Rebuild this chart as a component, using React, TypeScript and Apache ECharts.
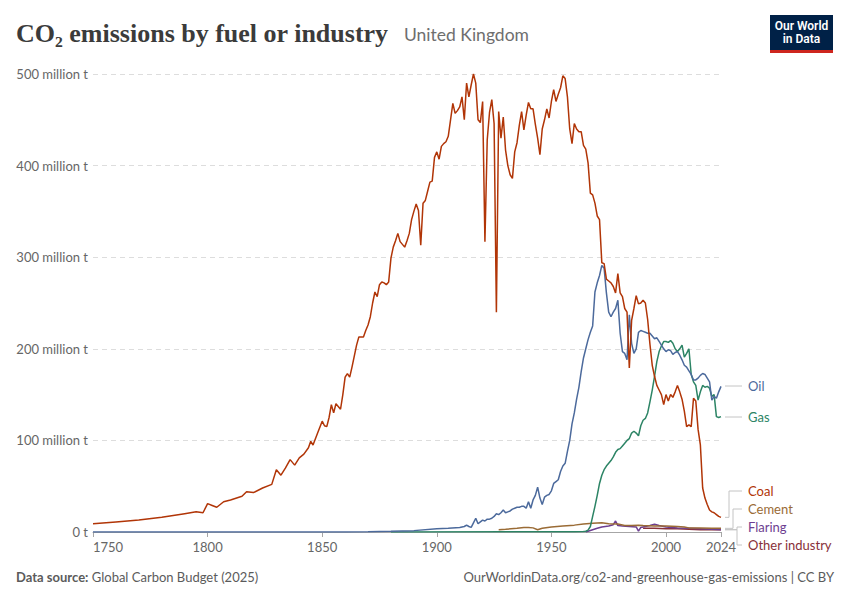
import React, { useEffect, useRef } from 'react';
import * as echarts from 'echarts';

// [year, million tonnes CO2]
const coal: [number, number][] = [
  [1750, 9], [1760, 11], [1770, 13], [1780, 16], [1790, 20], [1795, 22], [1798, 21], [1800, 31],
  [1802, 29], [1804, 27], [1807, 33], [1810, 35], [1815, 39], [1817, 44], [1820, 43], [1824, 48],
  [1828, 52], [1830, 68], [1832, 62], [1834, 70], [1836, 79], [1838, 73], [1840, 81], [1842, 85],
  [1844, 92], [1845, 99], [1846, 95], [1848, 108], [1850, 121], [1851, 116], [1852, 115], [1853, 125],
  [1854, 139], [1855, 130], [1856, 140], [1857, 137], [1858, 134], [1859, 150], [1860, 169], [1861, 173],
  [1862, 169], [1863, 180], [1864, 192], [1865, 204], [1866, 213], [1867, 213], [1868, 213], [1869, 220],
  [1870, 226], [1871, 235], [1872, 250], [1873, 262], [1874, 257], [1875, 270], [1876, 273], [1877, 272],
  [1878, 270], [1879, 273], [1880, 299], [1881, 311], [1882, 318], [1883, 326], [1884, 317], [1885, 314],
  [1886, 311], [1887, 318], [1888, 326], [1889, 341], [1890, 350], [1891, 358], [1892, 351], [1893, 313],
  [1894, 359], [1895, 362], [1896, 372], [1897, 382], [1898, 383], [1899, 409], [1900, 415], [1901, 407],
  [1902, 421], [1903, 424], [1904, 426], [1905, 432], [1906, 450], [1907, 468], [1908, 457], [1909, 460],
  [1910, 464], [1911, 475], [1912, 450], [1913, 490], [1914, 475], [1915, 488], [1916, 500], [1917, 490],
  [1918, 450], [1919, 447], [1920, 470], [1921, 317], [1922, 428], [1923, 458], [1924, 472], [1925, 446],
  [1926, 240], [1927, 459], [1928, 430], [1929, 453], [1930, 417], [1931, 400], [1932, 390], [1933, 386],
  [1934, 415], [1935, 425], [1936, 444], [1937, 459], [1938, 439], [1939, 455], [1940, 469], [1941, 462],
  [1942, 462], [1943, 445], [1944, 430], [1945, 412], [1946, 440], [1947, 450], [1948, 462], [1949, 452],
  [1950, 470], [1951, 483], [1952, 470], [1953, 478], [1954, 485], [1955, 498], [1956, 495], [1957, 475],
  [1958, 440], [1959, 424], [1960, 446], [1961, 440], [1962, 437], [1963, 437], [1964, 422], [1965, 418],
  [1966, 403], [1967, 370], [1968, 368], [1969, 359], [1970, 345], [1971, 341], [1972, 294], [1973, 293],
  [1974, 276], [1975, 274], [1976, 272], [1977, 268], [1978, 261], [1979, 282], [1980, 261], [1981, 257],
  [1982, 244], [1983, 240], [1984, 179], [1985, 231], [1986, 244], [1987, 258], [1988, 249], [1989, 250],
  [1990, 253], [1991, 250], [1992, 232], [1993, 205], [1994, 182], [1995, 170], [1996, 160], [1997, 155],
  [1998, 150], [1999, 139], [2000, 150], [2001, 143], [2002, 150], [2003, 147], [2004, 153], [2005, 160],
  [2006, 153], [2007, 145], [2008, 132], [2009, 115], [2010, 117], [2011, 115], [2012, 146], [2013, 143],
  [2014, 112], [2015, 95], [2016, 48], [2017, 37], [2018, 30], [2019, 24], [2020, 22], [2021, 21],
  [2022, 19], [2023, 17], [2024, 16],
];

const oil: [number, number][] = [
  [1750, 0], [1860, 0.1], [1870, 0.3], [1880, 0.8], [1890, 1.5], [1900, 3.5], [1905, 4], [1910, 5],
  [1911, 5.5], [1912, 6], [1913, 7.6], [1914, 6], [1915, 5], [1916, 10], [1917, 15], [1918, 9],
  [1919, 11], [1920, 13], [1921, 12], [1922, 14], [1923, 14], [1924, 15], [1925, 17], [1926, 20],
  [1927, 19], [1928, 21], [1929, 24], [1930, 21], [1931, 22], [1932, 23], [1933, 25], [1934, 26],
  [1935, 27], [1936, 27], [1937, 28], [1938, 28], [1939, 26], [1940, 33], [1941, 26], [1942, 35],
  [1943, 40], [1944, 49], [1945, 37], [1946, 30], [1947, 38], [1948, 40], [1949, 41], [1950, 45],
  [1951, 53], [1952, 55], [1953, 57], [1954, 66], [1955, 72], [1956, 75], [1957, 88], [1958, 100],
  [1959, 118], [1960, 130], [1961, 145], [1962, 158], [1963, 175], [1964, 190], [1965, 200], [1966, 210],
  [1967, 218], [1968, 225], [1969, 262], [1970, 272], [1971, 280], [1972, 291], [1973, 288], [1974, 261],
  [1975, 240], [1976, 235], [1977, 240], [1978, 244], [1979, 253], [1980, 217], [1981, 197], [1982, 195],
  [1983, 188], [1984, 237], [1985, 206], [1986, 195], [1987, 200], [1988, 218], [1989, 220], [1990, 219],
  [1991, 218], [1992, 217], [1993, 217], [1994, 214], [1995, 211], [1996, 212], [1997, 208], [1998, 204],
  [1999, 200], [2000, 197], [2001, 199], [2002, 198], [2003, 194], [2004, 196], [2005, 197], [2006, 193],
  [2007, 188], [2008, 182], [2009, 180], [2010, 176], [2011, 172], [2012, 166], [2013, 166], [2014, 168],
  [2015, 171], [2016, 173], [2017, 172], [2018, 168], [2019, 164], [2020, 144], [2021, 148], [2022, 146],
  [2023, 153], [2024, 159],
];

const gas: [number, number][] = [
  [1880, 0.1], [1950, 0.2], [1960, 0.3], [1964, 0.5], [1965, 0.8], [1966, 2], [1967, 6], [1968, 17],
  [1969, 28], [1970, 40], [1971, 53], [1972, 62], [1973, 68], [1974, 72], [1975, 75], [1976, 78],
  [1977, 82], [1978, 87], [1979, 90], [1980, 91], [1981, 94], [1982, 97], [1983, 100], [1984, 102],
  [1985, 108], [1986, 110], [1987, 108], [1988, 105], [1989, 116], [1990, 122], [1991, 124], [1992, 130],
  [1993, 142], [1994, 155], [1995, 170], [1996, 186], [1997, 197], [1998, 203], [1999, 208], [2000, 208],
  [2001, 207], [2002, 209], [2003, 206], [2004, 200], [2005, 197], [2006, 200], [2007, 204], [2008, 191],
  [2009, 195], [2010, 200], [2011, 172], [2012, 164], [2013, 160], [2014, 144], [2015, 153], [2016, 160],
  [2017, 158], [2018, 159], [2019, 157], [2020, 148], [2021, 150], [2022, 126], [2023, 125], [2024, 126],
];

const cement: [number, number][] = [
  [1927, 2.5], [1930, 3], [1935, 4], [1938, 5], [1940, 5], [1942, 4.5], [1944, 2.5], [1946, 4],
  [1950, 5.5], [1955, 6.5], [1960, 7.5], [1964, 8.7], [1968, 9.5], [1972, 10], [1975, 9], [1979, 8.7],
  [1982, 7], [1985, 7], [1988, 7.5], [1990, 7], [1995, 6.5], [2000, 6.5], [2005, 6], [2008, 5.5],
  [2010, 4.5], [2015, 4.5], [2020, 4], [2024, 4],
];

const flaring: [number, number][] = [
  [1965, 0], [1968, 2.5], [1970, 4], [1972, 5.5], [1975, 6.5], [1977, 8], [1978, 12], [1979, 7],
  [1981, 6.5], [1984, 6], [1987, 5.5], [1988, 1], [1989, 5], [1991, 6], [1993, 7], [1995, 8.5],
  [1997, 7], [2000, 5.5], [2005, 4.5], [2010, 4], [2015, 3.5], [2020, 3], [2024, 2.5],
];

const otherIndustry: [number, number][] = [
  [1990, 4], [1995, 4], [2000, 3.5], [2005, 3.5], [2010, 3], [2015, 2.5], [2020, 2.5], [2024, 2.5],
];

const yTicks = [0, 100, 200, 300, 400, 500];
const xTicks = [1750, 1800, 1850, 1900, 1950, 2000, 2024];

// name, data, colour, label y (px), elbow x (px)
const seriesDefs = [
  { name: 'Other industry', data: otherIndustry, color: '#883039', labelY: 545, elbowX: 737 },
  { name: 'Flaring', data: flaring, color: '#6D3E91', labelY: 527, elbowX: 737 },
  { name: 'Cement', data: cement, color: '#9A6B35', labelY: 509, elbowX: 733 },
  { name: 'Gas', data: gas, color: '#2C8465', labelY: 417, elbowX: 0 },
  { name: 'Oil', data: oil, color: '#4C6A9C', labelY: 386, elbowX: 0 },
  { name: 'Coal', data: coal, color: '#B13507', labelY: 491, elbowX: 729 },
];

const FONT = 'Lato, "Noto Sans", sans-serif';

const App: React.FC = () => {
  const chartRef = useRef<HTMLDivElement>(null);

  useEffect(() => {
    if (!chartRef.current) return;
    const chart = echarts.init(chartRef.current, null, { renderer: 'svg' });

    chart.setOption({
      animation: false,
      grid: { left: 93, right: 129, top: 74, bottom: 68 },
      xAxis: {
        type: 'value',
        min: xTicks[0],
        max: xTicks[xTicks.length - 1],
        interval: 50,
        axisLine: { show: true, lineStyle: { color: '#a6a6a6' } },
        axisTick: { show: true, length: 5, lineStyle: { color: '#a6a6a6' } },
        splitLine: { show: false },
        axisLabel: {
          color: '#666',
          fontFamily: FONT,
          fontSize: 13,
          margin: 8,
          alignMinLabel: 'left',
          showMaxLabel: true,
          formatter: (v: number) => String(v),
        },
      },
      yAxis: {
        type: 'value',
        min: yTicks[0],
        max: yTicks[yTicks.length - 1],
        interval: 100,
        axisLine: { show: false },
        axisTick: { show: false },
        splitLine: { lineStyle: { color: '#dddddd', type: [5, 4] } },
        axisLabel: {
          color: '#666',
          fontFamily: FONT,
          fontSize: 13,
          margin: 5,
          formatter: (v: number) => (v === 0 ? '0 t' : `${v} million t`),
        },
      },
      series: seriesDefs.map((s) => ({
        name: s.name,
        type: 'line',
        data: s.data,
        showSymbol: false,
        symbol: 'none',
        lineStyle: { color: s.color, width: 1.5 },
        itemStyle: { color: s.color },
      })),
    });

    const graphics: any[] = [
      {
        type: 'text',
        x: 16,
        y: 33,
        style: {
          text: 'CO₂ emissions by fuel or industry',
          font: 'bold 26px "Liberation Serif", "DejaVu Serif", serif',
          fill: '#3b3b3b',
          verticalAlign: 'middle',
        },
      },
      {
        type: 'text',
        x: 404,
        y: 34,
        style: {
          text: 'United Kingdom',
          font: `17.5px ${FONT}`,
          fill: '#6e6e6e',
          verticalAlign: 'middle',
        },
      },
      { type: 'rect', shape: { x: 770, y: 15, width: 63, height: 35 }, style: { fill: '#002147' } },
      { type: 'rect', shape: { x: 770, y: 50, width: 63, height: 3 }, style: { fill: '#ce261e' } },
      {
        type: 'text',
        x: 801.5,
        y: 32,
        style: {
          text: 'Our World\nin Data',
          font: `600 12px Roboto, sans-serif`,
          fill: '#ffffff',
          align: 'center',
          verticalAlign: 'middle',
          lineHeight: 13,
        },
      },
      {
        type: 'text',
        x: 16,
        y: 570,
        style: {
          text: '{b|Data source:} Global Carbon Budget (2025)',
          font: `13px ${FONT}`,
          fill: '#5b5b5b',
          rich: {
            b: { fontFamily: FONT, fontSize: 13, fontWeight: 'bold', fill: '#5b5b5b' },
          },
        },
      },
      {
        type: 'text',
        x: 834,
        y: 570,
        style: {
          text: 'OurWorldinData.org/co2-and-greenhouse-gas-emissions | CC BY',
          font: `13px ${FONT}`,
          fill: '#5b5b5b',
          align: 'right',
        },
      },
    ];

    const labelX = 748;
    seriesDefs.forEach((s) => {
      const last = s.data[s.data.length - 1];
      const pt = chart.convertToPixel({ gridIndex: 0 }, last) as number[];
      const startX = pt[0] + 4;
      const startY = pt[1];
      const points =
        s.elbowX === 0
          ? [[startX, s.labelY], [labelX - 6, s.labelY]]
          : [[startX, startY], [s.elbowX, startY], [s.elbowX, s.labelY], [labelX - 6, s.labelY]];
      graphics.push({
        type: 'polyline',
        shape: { points },
        style: { stroke: '#c4c4c4', lineWidth: 1, fill: null },
      });
      graphics.push({
        type: 'text',
        x: labelX,
        y: s.labelY,
        style: {
          text: s.name,
          font: `13px ${FONT}`,
          fill: s.color,
          verticalAlign: 'middle',
        },
      });
    });

    chart.setOption({ graphic: graphics });

    return () => {
      chart.dispose();
    };
  }, []);

  return (
    <div
      ref={chartRef}
      style={{ position: 'absolute', left: 0, top: 0, width: '850px', height: '600px', background: '#fff' }}
    />
  );
};

export default App;
